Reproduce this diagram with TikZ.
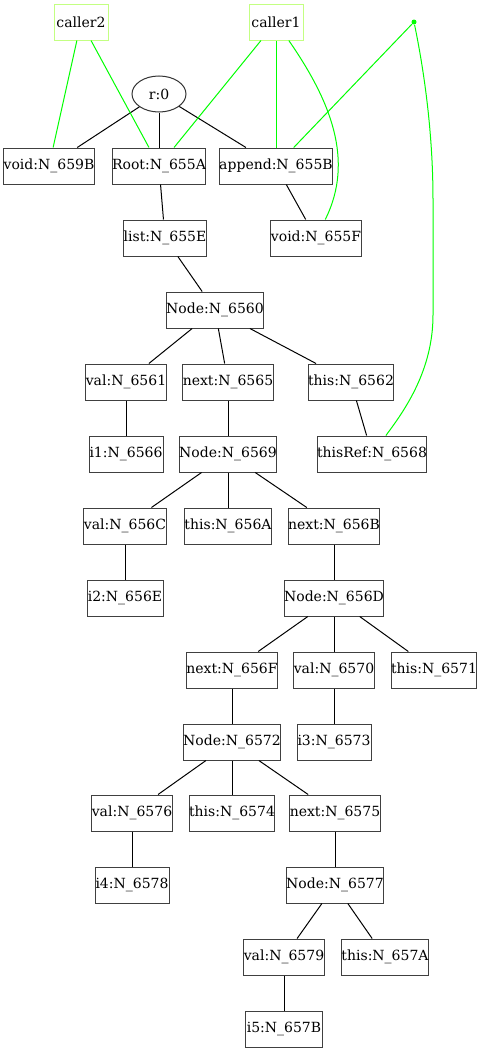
\documentclass[tikz,border=0pt]{standalone}
\usepackage{fontspec}
\setmainfont{DejaVu Serif}
\usetikzlibrary{shapes}
\definecolor{callgreen}{RGB}{195,255,130}
\definecolor{linkgreen}{RGB}{0,255,0}

\begin{document}
\begin{tikzpicture}[x=1pt,y=-1pt,line width=1pt,
  font=\fontsize{14}{16}\selectfont,
  obj/.style={draw=black!75, rectangle, minimum height=36pt, inner sep=0pt},
  caller/.style={draw=callgreen, rectangle, minimum width=54pt, minimum height=36pt, inner sep=0pt},
  callink/.style={draw=linkgreen}]
  \useasboundingbox (0,0) rectangle (480,1052);

  \node[caller] (caller2) at (81,22) {caller2};
  \node[caller] (caller1) at (276,22) {caller1};
  \node[fill=linkgreen, circle, inner sep=0pt, minimum size=5pt] (hub) at (414,22) {};

  \node[draw=black!80, ellipse, minimum width=54pt, minimum height=36pt, inner sep=0pt] (r) at (159,94) {r:0};

  \node[obj, minimum width=90pt]  (v659B) at (49,166)  {void:N\_659B};
  \node[obj, minimum width=93pt]  (r655A) at (159,166) {Root:N\_655A};
  \node[obj, minimum width=106pt] (a655B) at (276,166) {append:N\_655B};
  \node[obj, minimum width=82pt]  (l655E) at (165,238) {list:N\_655E};
  \node[obj, minimum width=90pt]  (v655F) at (316,238) {void:N\_655F};

  \node[obj, minimum width=94pt]  (n6560) at (215,310) {Node:N\_6560};
  \node[obj, minimum width=80pt]  (v6561) at (126,382) {val:N\_6561};
  \node[obj, minimum width=88pt]  (x6565) at (228,382) {next:N\_6565};
  \node[obj, minimum width=84pt]  (t6562) at (351,382) {this:N\_6562};
  \node[obj, minimum width=74pt]  (i6566) at (126,454) {i1:N\_6566};
  \node[obj, minimum width=94pt]  (n6569) at (228,454) {Node:N\_6569};
  \node[obj, minimum width=104pt] (r6568) at (372,454) {thisRef:N\_6568};

  \node[obj, minimum width=83pt]  (v656C) at (125,526) {val:N\_656C};
  \node[obj, minimum width=86pt]  (t656A) at (228,526) {this:N\_656A};
  \node[obj, minimum width=90pt]  (x656B) at (334,526) {next:N\_656B};
  \node[obj, minimum width=76pt]  (i656E) at (125,598) {i2:N\_656E};
  \node[obj, minimum width=96pt]  (n656D) at (334,598) {Node:N\_656D};

  \node[obj, minimum width=88pt]  (x656F) at (232,670) {next:N\_656F};
  \node[obj, minimum width=80pt]  (v6570) at (334,670) {val:N\_6570};
  \node[obj, minimum width=84pt]  (t6571) at (434,670) {this:N\_6571};
  \node[obj, minimum width=94pt]  (n6572) at (232,742) {Node:N\_6572};
  \node[obj, minimum width=74pt]  (i6573) at (334,742) {i3:N\_6573};

  \node[obj, minimum width=80pt]  (v6576) at (132,813) {val:N\_6576};
  \node[obj, minimum width=84pt]  (t6574) at (232,813) {this:N\_6574};
  \node[obj, minimum width=88pt]  (x6575) at (335,813) {next:N\_6575};
  \node[obj, minimum width=74pt]  (i6578) at (132,885) {i4:N\_6578};
  \node[obj, minimum width=94pt]  (n6577) at (335,885) {Node:N\_6577};
  \node[obj, minimum width=80pt]  (v6579) at (284,957) {val:N\_6579};
  \node[obj, minimum width=86pt]  (t657A) at (385,957) {this:N\_657A};
  \node[obj, minimum width=77pt]  (i657B) at (284,1029) {i5:N\_657B};

  % object tree
  \path (r) edge (v659B) edge (r655A) edge (a655B)
        (r655A) edge (l655E)
        (a655B) edge (v655F)
        (l655E) edge (n6560)
        (n6560) edge (v6561) edge (x6565) edge (t6562)
        (v6561) edge (i6566)
        (x6565) edge (n6569)
        (t6562) edge (r6568)
        (n6569) edge (v656C) edge (t656A) edge (x656B)
        (v656C) edge (i656E)
        (x656B) edge (n656D)
        (n656D) edge (x656F) edge (v6570) edge (t6571)
        (x656F) edge (n6572)
        (v6570) edge (i6573)
        (n6572) edge (v6576) edge (t6574) edge (x6575)
        (v6576) edge (i6578)
        (x6575) edge (n6577)
        (n6577) edge (v6579) edge (t657A)
        (v6579) edge (i657B);

  % callers
  \path (caller2) edge[callink] (v659B) edge[callink] (r655A)
        (caller1) edge[callink] (r655A) edge[callink] (a655B)
        (hub) edge[callink] (a655B);
  \draw[callink] (caller1) .. controls (330,100) and (355,160) .. (v655F);
  \draw[callink] (hub) .. controls (428,90) and (433,150) .. (433,200)
        -- (433,315) .. controls (433,370) and (405,410) .. (r6568);
\end{tikzpicture}
\end{document}
